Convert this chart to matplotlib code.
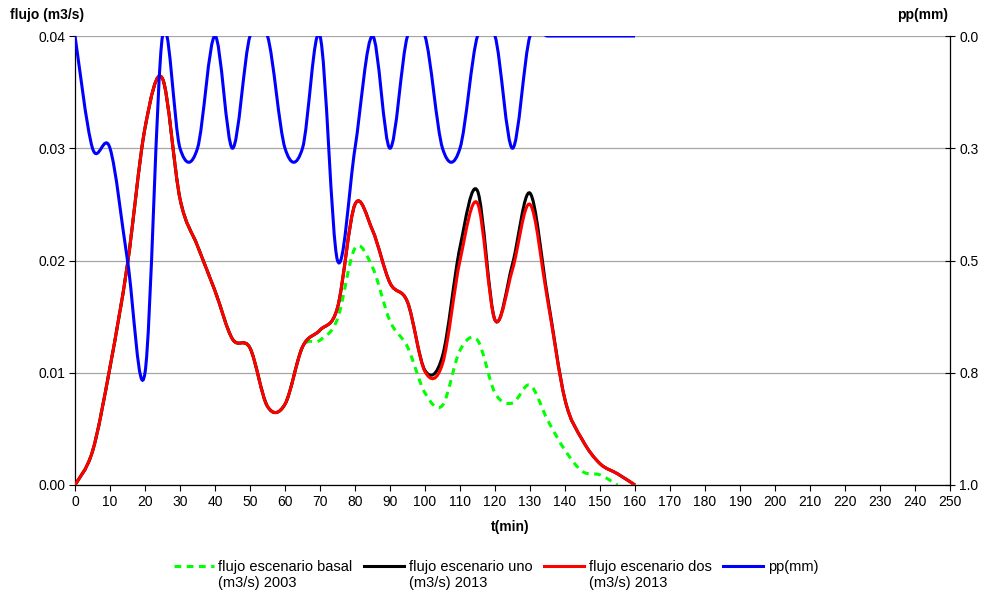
import numpy as np
import matplotlib
matplotlib.use('Agg')
import matplotlib.pyplot as plt
from matplotlib.path import Path
from matplotlib.patches import PathPatch
from matplotlib.lines import Line2D
from matplotlib.legend_handler import HandlerLine2D

plt.rcParams['font.family'] = ['Liberation Sans', 'DejaVu Sans']
plt.rcParams['font.size'] = 10

# datos (cada 5 min)
t_flujo = list(range(0, 165, 5))
flujo_dos = [0.0, 0.0030, 0.0105, 0.0197, 0.0318, 0.0362, 0.0255, 0.0213, 0.0173,
             0.0130, 0.0122, 0.0070, 0.0072, 0.0123, 0.0138, 0.0158, 0.0250, 0.0227,
             0.0180, 0.0163, 0.0101, 0.0108, 0.0200, 0.0251, 0.0147, 0.0192, 0.0250,
             0.0165, 0.0076, 0.0040, 0.0019, 0.0010, 0.0]
flujo_uno = [0.0, 0.0030, 0.0105, 0.0197, 0.0318, 0.0362, 0.0255, 0.0213, 0.0173,
             0.0130, 0.0122, 0.0070, 0.0072, 0.0123, 0.0138, 0.0158, 0.0250, 0.0227,
             0.0180, 0.0163, 0.0102, 0.0115, 0.0212, 0.0262, 0.0147, 0.0197, 0.0260,
             0.0168, 0.0076, 0.0040, 0.0019, 0.0010, 0.0]
t_basal = list(range(0, 160, 5))
flujo_basal = [0.0, 0.0030, 0.0105, 0.0197, 0.0318, 0.0362, 0.0255, 0.0213, 0.0173,
               0.0130, 0.0122, 0.0070, 0.0072, 0.0123, 0.0129, 0.0148, 0.0211, 0.0194,
               0.0146, 0.0123, 0.0082, 0.0071, 0.0120, 0.0129, 0.0082, 0.0073, 0.0089,
               0.0058, 0.0031, 0.0012, 0.0009, 0.0]
t_pp = list(range(0, 165, 5))
pp = [0.0, 0.25, 0.25, 0.5, 0.75, 0.0, 0.25, 0.25, 0.0, 0.25, 0.0, 0.0, 0.25, 0.25,
      0.0, 0.5, 0.25, 0.0, 0.25, 0.0, 0.0, 0.25, 0.25, 0.0, 0.0, 0.25, 0.0, 0.0, 0.0,
      0.0, 0.0, 0.0, 0.0]

x_ticks = list(range(0, 260, 10))
y_ticks = [0.0, 0.01, 0.02, 0.03, 0.04]
pp_ticks = [0.0, 0.25, 0.5, 0.75, 1.0]
pp_labels = ['0.0', '0.3', '0.5', '0.8', '1.0']


def curva_suave(xs, ys):
    # bezier tipo catmull-rom, como las lineas suavizadas de excel
    pts = np.column_stack([xs, ys]).astype(float)
    n = len(pts)
    verts = [pts[0]]
    codes = [Path.MOVETO]
    for i in range(n - 1):
        p0 = pts[max(i - 1, 0)]
        p1 = pts[i]
        p2 = pts[i + 1]
        p3 = pts[min(i + 2, n - 1)]
        verts += [p1 + (p2 - p0) / 6, p2 - (p3 - p1) / 6, p2]
        codes += [Path.CURVE4] * 3
    return Path(verts, codes)


class HandlerArriba(HandlerLine2D):
    # pone la linea de la leyenda a la altura del primer renglon
    def create_artists(self, legend, orig_handle, xdescent, ydescent,
                       width, height, fontsize, trans):
        arts = super().create_artists(legend, orig_handle, xdescent, ydescent,
                                      width, height, fontsize, trans)
        for a in arts:
            if isinstance(a, Line2D):
                a.set_ydata(np.asarray(a.get_ydata()) + 0.62 * fontsize)
        return arts


fig = plt.figure(figsize=(9.85, 5.94), dpi=100)
ax = fig.add_axes([75 / 985, 1 - 485 / 594, 875 / 985, 449 / 594])

lw = 2.2
dash = (0, (2.2, 1.8))
ax.add_patch(PathPatch(curva_suave(t_basal, flujo_basal), fill=False,
                       edgecolor='#00ff00', lw=lw, linestyle=dash, zorder=2))
ax.add_patch(PathPatch(curva_suave(t_flujo, flujo_uno), fill=False,
                       edgecolor='black', lw=lw, zorder=3))
ax.add_patch(PathPatch(curva_suave(t_flujo, flujo_dos), fill=False,
                       edgecolor='#ff0000', lw=lw, zorder=4))

ax.set_xlim(0, 250)
ax.set_ylim(0, 0.04)
ax.set_xticks(x_ticks)
ax.set_yticks(y_ticks)
ax.set_yticklabels(['%.2f' % v for v in y_ticks])
ax.yaxis.grid(True, color='#a6a6a6', lw=0.9)
ax.set_axisbelow(True)
for s in ['top', 'right']:
    ax.spines[s].set_visible(False)
for s in ['left', 'bottom']:
    ax.spines[s].set_linewidth(0.9)
ax.tick_params(direction='out', length=4, width=0.8, pad=3)

ax2 = ax.twinx()
ax2.add_patch(PathPatch(curva_suave(t_pp, pp), fill=False,
                        edgecolor='#0000ff', lw=lw, zorder=5))
ax2.set_ylim(1.0, 0.0)
ax2.set_xlim(0, 250)
ax2.set_yticks(pp_ticks)
ax2.set_yticklabels(pp_labels)
for s in ['top', 'left', 'bottom']:
    ax2.spines[s].set_visible(False)
ax2.spines['right'].set_linewidth(0.9)
ax2.tick_params(direction='inout', length=7, width=0.8, pad=3)

fig.text(10 / 985, 1 - 15 / 594, 'flujo (m3/s)', weight='bold', va='center', ha='left')
fig.text(948 / 985, 1 - 15 / 594, 'pp(mm)', weight='bold', va='center', ha='right')
fig.text(510 / 985, 1 - 527 / 594, 't(min)', weight='bold', va='center', ha='center')

# el ultimo rotulo lleva un salto de linea final para quedar en el primer renglon
labels = ['flujo escenario basal\n(m3/s) 2003', 'flujo escenario uno\n(m3/s) 2013',
          'flujo escenario dos\n(m3/s) 2013', 'pp(mm)\n ']
colores = ['#00ff00', 'black', '#ff0000', '#0000ff']
estilos = [dash, '-', '-', '-']
handles = [Line2D([], [], color=c, lw=lw, linestyle=e) for c, e in zip(colores, estilos)]
fig.legend(handles, labels, loc='center', bbox_to_anchor=(496 / 985, 1 - 575 / 594),
           ncol=4, frameon=False, fontsize=10.5, handlelength=2.75, handletextpad=0.3,
           columnspacing=0.8, borderpad=0, labelspacing=0.2,
           handler_map={Line2D: HandlerArriba()})

fig.savefig('out.png', dpi=100)
